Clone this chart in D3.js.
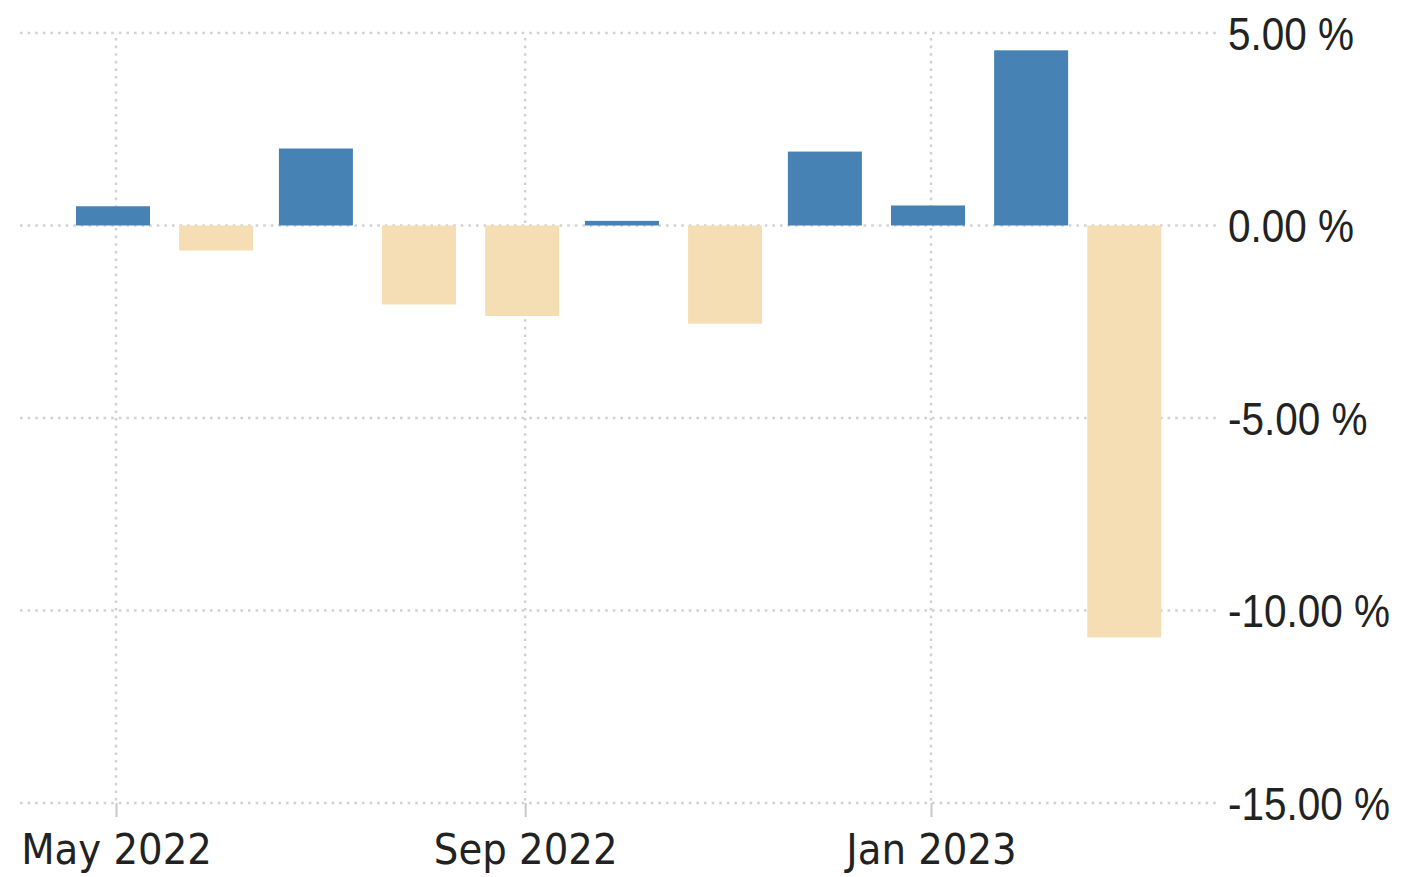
<!DOCTYPE html>
<html><head><meta charset="utf-8">
<script src="https://cdn.jsdelivr.net/npm/d3@7"></script>
<style>
html,body{margin:0;padding:0;background:#fff;}
svg{display:block;}
</style></head>
<body>
<script>
const months = ["2022-05","2022-06","2022-07","2022-08","2022-09","2022-10","2022-11","2022-12","2023-01","2023-02","2023-03"];
const values = [0.5, -0.65, 2.0, -2.05, -2.35, 0.12, -2.55, 1.92, 0.52, 4.55, -10.7];
const yTicks = [5, 0, -5, -10, -15];
const xTickMonths = ["2022-05","2022-09","2023-01"];

const W = 1401, H = 877;
const parse = d3.timeParse("%Y-%m");
const svg = d3.select("body").append("svg").attr("width", W).attr("height", H);

const left = 20, right = 1217;
const anchor = d3.scaleTime().domain([parse("2022-05"), parse("2023-01")]).range([116, 931]);
const x = d3.scaleTime().domain([anchor.invert(left), anchor.invert(right)]).range([left, right]);
const y = d3.scaleLinear().domain([-15, 5]).range([803, 33]);

const grid = svg.append("g");
grid.selectAll("line.h").data(yTicks).join("line")
  .attr("x1", left).attr("x2", right)
  .attr("y1", d => y(d)).attr("y2", d => y(d))
  .attr("stroke", "#d2d2d2").attr("stroke-width", 2.5).attr("stroke-dasharray", "2.6,5");
grid.selectAll("line.v").data(xTickMonths).join("line")
  .attr("x1", d => x(parse(d))).attr("x2", d => x(parse(d)))
  .attr("y1", y(5) + 5).attr("y2", y(-15))
  .attr("stroke", "#d2d2d2").attr("stroke-width", 2.5).attr("stroke-dasharray", "2.6,5");

const barW = 74;
svg.append("g").selectAll("rect").data(months.map((m, i) => ({m: parse(m), v: values[i]}))).join("rect")
  .attr("x", d => x(d.m) - 3 - barW / 2)
  .attr("width", barW)
  .attr("y", d => y(Math.max(0, d.v)))
  .attr("height", d => Math.abs(y(d.v) - y(0)))
  .attr("fill", d => d.v >= 0 ? "#4682B4" : "#F5DEB3");

// y axis (right side)
const yAxis = d3.axisRight(y).tickValues(yTicks).tickSize(0).tickPadding(0)
  .tickFormat(d => d3.format(".2f")(d).replace("\u2212", "-") + " %");
const ya = svg.append("g").attr("transform", `translate(1228,0)`).call(yAxis);
ya.select(".domain").remove();
ya.selectAll("text").attr("font-family", "'Liberation Sans',Arial,sans-serif")
  .attr("font-size", 46).attr("fill", "#222").attr("dy", "0.35em")
  .attr("transform", "scale(0.88,1)");

// x axis
const xAxis = d3.axisBottom(x).tickValues(xTickMonths.map(parse)).tickSize(14).tickPadding(16)
  .tickFormat(d3.timeFormat("%b %Y"));
const xa = svg.append("g").attr("transform", `translate(0,${y(-15)})`).call(xAxis);
xa.select(".domain").remove();
xa.selectAll(".tick line").attr("stroke", "#c8c8c8").attr("stroke-width", 2);
xa.selectAll("text").attr("font-family", "'DejaVu Sans Condensed','DejaVu Sans',sans-serif")
  .attr("font-size", 43).attr("fill", "#222");
</script>
</body></html>
